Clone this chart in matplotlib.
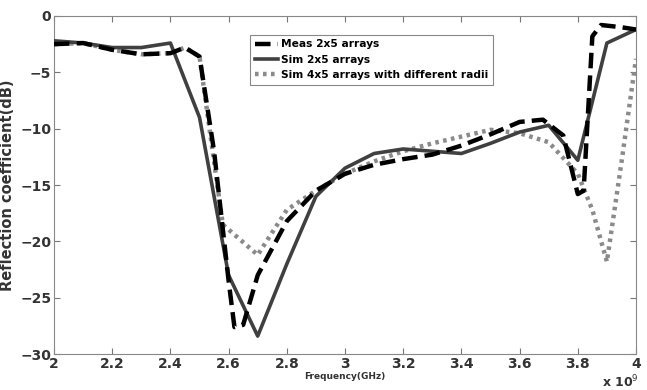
import matplotlib
matplotlib.use("Agg")
import matplotlib.pyplot as plt

# frequency in GHz (axis shows x 10^9 Hz)
meas_f = [2.0, 2.1, 2.2, 2.3, 2.4, 2.45, 2.5, 2.55, 2.6, 2.62, 2.65, 2.7, 2.8, 2.9,
          3.0, 3.1, 3.2, 3.3, 3.4, 3.5, 3.6, 3.68, 3.75, 3.8, 3.82, 3.85, 3.88, 3.95, 4.0]
meas_db = [-2.5, -2.4, -3.0, -3.4, -3.3, -2.8, -3.6, -12.0, -23.5, -27.6, -27.4, -23.0, -18.2, -15.5,
           -14.0, -13.2, -12.7, -12.3, -11.5, -10.5, -9.4, -9.2, -10.6, -15.8, -15.5, -1.8, -0.8, -1.0, -1.2]

sim_f = [2.0, 2.1, 2.2, 2.3, 2.4, 2.5, 2.6, 2.7, 2.8, 2.9, 3.0, 3.1, 3.2, 3.3,
         3.4, 3.5, 3.6, 3.7, 3.8, 3.9, 4.0]
sim_db = [-2.2, -2.4, -2.8, -2.8, -2.4, -9.0, -23.0, -28.4, -22.0, -16.0, -13.5, -12.2, -11.8, -12.0,
          -12.2, -11.3, -10.3, -9.7, -12.8, -2.4, -1.2]

sim4_f = [2.0, 2.1, 2.2, 2.3, 2.4, 2.45, 2.5, 2.58, 2.7, 2.8, 2.9, 3.0, 3.1, 3.2, 3.3,
          3.4, 3.5, 3.6, 3.7, 3.8, 3.85, 3.9, 3.95, 4.0]
sim4_db = [-2.5, -2.4, -3.0, -3.4, -3.3, -2.8, -3.6, -18.5, -21.2, -17.2, -15.5, -14.0, -12.9, -12.0, -11.3,
           -10.7, -10.1, -10.4, -11.2, -14.0, -17.2, -21.8, -13.0, -3.8]

xticks = [2, 2.2, 2.4, 2.6, 2.8, 3, 3.2, 3.4, 3.6, 3.8, 4]
yticks = [0, -5, -10, -15, -20, -25, -30]

fig = plt.figure(figsize=(6.47, 3.90), dpi=100)
ax = fig.add_axes([0.0835, 0.092, 0.8995, 0.867])

ax.plot(sim4_f, sim4_db, color="#8a8a8a", lw=3.2, linestyle=(0, (0.8, 1.0)),
        label="Sim 4x5 arrays with different radii", zorder=2)
ax.plot(sim_f, sim_db, color="#404040", lw=2.6, label="Sim 2x5 arrays", zorder=3)
ax.plot(meas_f, meas_db, color="black", lw=3.2, linestyle=(0, (3.5, 1.6)),
        label="Meas 2x5 arrays", zorder=4)

ax.set_xlim(2, 4)
ax.set_ylim(-30, 0)
ax.set_xticks(xticks)
ax.set_xticklabels([f"{t:g}" for t in xticks])
ax.set_yticks(yticks)
ax.tick_params(direction="in", top=True, right=True, length=4, color="#777777",
               labelsize=10, pad=2)
for lab in ax.get_xticklabels() + ax.get_yticklabels():
    lab.set_fontweight("bold")
    lab.set_color("#333333")
for s in ax.spines.values():
    s.set_color("#888888")

ax.set_ylabel("Reflection coefficient(dB)", fontsize=10.5, fontweight="bold", color="#333333")
ax.set_xlabel("Frequency(GHz)", fontsize=6.5, fontweight="bold", color="#333333", labelpad=1)
fig.text(0.988, 0.008, r"x 10$^9$", fontsize=9, fontweight="bold", color="#333333", ha="right")

h, l = ax.get_legend_handles_labels()
order = [2, 1, 0]
leg = ax.legend([h[i] for i in order], [l[i] for i in order],
                loc="upper left", bbox_to_anchor=(0.337, 0.945),
                prop={"weight": "bold", "size": 7.7}, handlelength=2.2,
                handletextpad=0.2, labelspacing=0.5, borderpad=0.45,
                fancybox=False, framealpha=1, edgecolor="#888888", borderaxespad=0)
leg.get_frame().set_linewidth(0.8)

fig.savefig("out.png", dpi=100)
